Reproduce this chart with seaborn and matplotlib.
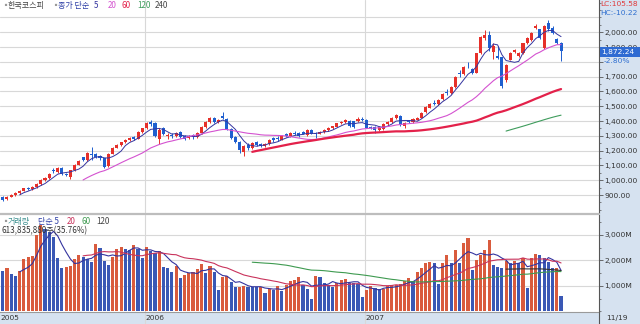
import numpy as np
import pandas as pd
import matplotlib
matplotlib.use("Agg")
import matplotlib.pyplot as plt
from matplotlib.patches import Rectangle
from matplotlib.lines import Line2D
from matplotlib.ticker import MultipleLocator, FuncFormatter
import seaborn as sns

# ---------------------------------------------------------------- data
first_week = "2005-05-09"

opens = [890, 872, 890, 902, 915, 930, 948, 940, 958, 972,
         1005, 1015, 1070, 1055, 1082, 1045, 1020, 1068, 1105, 1155,
         1135, 1178, 1180, 1165, 1148, 1098, 1180, 1220, 1238, 1258,
         1275, 1290, 1282, 1325, 1350, 1392, 1385, 1280, 1352, 1300,
         1308, 1300, 1325, 1298, 1285, 1305, 1290, 1320, 1360, 1395,
         1422, 1392, 1435, 1412, 1345, 1290, 1262, 1190, 1240, 1215,
         1260, 1245, 1230, 1245, 1285, 1285, 1275, 1310, 1300, 1322,
         1320, 1328, 1305, 1338, 1320, 1315, 1328, 1340, 1350, 1362,
         1385, 1396, 1402, 1398, 1400, 1414, 1408, 1362, 1360, 1340,
         1348, 1380, 1392, 1420, 1435, 1365, 1402, 1395, 1410, 1422,
         1458, 1490, 1522, 1518, 1548, 1598, 1590, 1630, 1722, 1720,
         1782, 1752, 1728, 1862, 1962, 1982, 1870, 1838, 1830, 1678,
         1815, 1865, 1838, 1862, 1928, 1945, 2030, 2020, 1895, 2060,
         2028, 1955, 1925]

highs = [895, 895, 908, 920, 935, 950, 955, 962, 980, 1010,
         1022, 1050, 1085, 1090, 1090, 1052, 1070, 1110, 1135, 1158,
         1190, 1225, 1185, 1170, 1150, 1185, 1225, 1245, 1262, 1280,
         1292, 1300, 1330, 1355, 1392, 1405, 1395, 1350, 1362, 1318,
         1320, 1325, 1332, 1305, 1305, 1312, 1325, 1365, 1400, 1425,
         1430, 1415, 1464, 1418, 1352, 1300, 1268, 1240, 1250, 1262,
         1268, 1252, 1252, 1278, 1295, 1298, 1305, 1318, 1325, 1330,
         1328, 1335, 1345, 1345, 1325, 1335, 1345, 1358, 1370, 1390,
         1402, 1412, 1408, 1402, 1428, 1430, 1412, 1368, 1365, 1368,
         1388, 1400, 1425, 1445, 1440, 1395, 1410, 1418, 1428, 1460,
         1500, 1520, 1545, 1550, 1590, 1615, 1635, 1705, 1742, 1770,
         1800, 1760, 1862, 1972, 2015, 2008, 1925, 1905, 1836, 1785,
         1868, 1890, 1868, 1930, 1965, 2002, 2058, 2025, 2048, 2085,
         2045, 1962, 1935]

lows = [862, 868, 885, 896, 910, 925, 932, 935, 950, 968,
        995, 1010, 1050, 1050, 1038, 1030, 1012, 1065, 1100, 1130,
        1130, 1140, 1150, 1140, 1080, 1090, 1175, 1215, 1230, 1250,
        1268, 1275, 1278, 1320, 1345, 1370, 1290, 1248, 1305, 1282,
        1285, 1295, 1285, 1270, 1280, 1280, 1285, 1315, 1355, 1390,
        1385, 1388, 1415, 1340, 1280, 1255, 1185, 1165, 1205, 1208,
        1235, 1225, 1222, 1240, 1262, 1268, 1270, 1295, 1295, 1305,
        1295, 1310, 1300, 1310, 1284, 1310, 1322, 1335, 1345, 1358,
        1378, 1390, 1360, 1352, 1395, 1400, 1350, 1345, 1320, 1335,
        1342, 1375, 1388, 1415, 1368, 1355, 1388, 1390, 1405, 1418,
        1455, 1488, 1508, 1510, 1542, 1578, 1585, 1625, 1700, 1712,
        1758, 1720, 1722, 1855, 1948, 1872, 1822, 1818, 1625, 1665,
        1810, 1858, 1830, 1855, 1920, 1940, 2020, 1955, 1885, 2010,
        1985, 1920, 1808]

closes = [870, 890, 902, 915, 930, 945, 940, 958, 972, 1005,
          1015, 1045, 1060, 1080, 1042, 1035, 1068, 1105, 1128, 1138,
          1185, 1172, 1158, 1150, 1092, 1180, 1220, 1238, 1258, 1275,
          1285, 1282, 1325, 1350, 1385, 1378, 1300, 1340, 1310, 1308,
          1302, 1318, 1290, 1282, 1300, 1290, 1320, 1360, 1395, 1418,
          1392, 1408, 1420, 1345, 1285, 1262, 1205, 1235, 1215, 1255,
          1240, 1232, 1245, 1272, 1275, 1278, 1300, 1302, 1318, 1315,
          1300, 1315, 1340, 1315, 1313, 1328, 1340, 1352, 1365, 1385,
          1396, 1405, 1365, 1358, 1412, 1408, 1352, 1350, 1340, 1362,
          1382, 1396, 1420, 1440, 1375, 1390, 1395, 1412, 1422, 1455,
          1495, 1515, 1518, 1545, 1583, 1590, 1628, 1700, 1715, 1763,
          1776, 1728, 1858, 1966, 1980, 1892, 1908, 1828, 1638, 1779,
          1862, 1878, 1860, 1925, 1958, 1997, 2045, 1960, 2040, 2020,
          1995, 1926, 1872.24]

# weekly volume, millions of shares
volumes_m = [1590, 1720, 1460, 1400, 1590, 2060, 2150, 2180, 3000, 3390,
             3250, 3130, 2940, 2110, 1690, 1760, 1790, 2050, 2220, 2150,
             2050, 1950, 2650, 2480, 1990, 1820, 2150, 2440, 2540, 2450,
             2410, 2610, 2450, 2090, 2540, 2390, 2300, 2390, 1760, 1720,
             1560, 1780, 1300, 1430, 1500, 1560, 1650, 1860, 1500, 1780,
             1560, 840, 1370, 1390, 1170, 950, 960, 1000, 980, 960,
             950, 970, 740, 870, 860, 1000, 820, 1040, 1210, 1220,
             1370, 1040, 870, 480, 1390, 1370, 1100, 1040, 970, 1100,
             1240, 1260, 1130, 1100, 1090, 560, 840, 1000, 930, 870,
             900, 1000, 1030, 1040, 1080, 1210, 1300, 1210, 1560, 1690,
             1890, 1950, 1890, 1080, 1890, 2220, 1890, 2410, 1890, 2670,
             2870, 1630, 2020, 2220, 2410, 2800, 1820, 1760, 1690, 1990,
             1890, 1990, 1890, 2080, 935, 2080, 2250, 2200, 2090, 1950,
             1690, 1717, 613.8]

price_ticks = [900, 1000, 1100, 1200, 1300, 1400, 1500, 1600, 1700, 1800, 1900, 2000]
hidden_price_labels = [1800]          # sits under the change-rate tag
volume_ticks = [1000, 2000, 3000]
price_ma_windows = [5, 20, 60, 120, 240]
volume_ma_windows = [5, 20, 60, 120]

last_volume_text = "613,835,880주(35.76%)"
change_text = "-2.80%"
lc_text = "LC:105.58"
hc_text = "HC:-10.22"

# ---------------------------------------------------------------- styling
sns.set_theme(style="white")
plt.rcParams["font.family"] = ["DejaVu Sans"]
KR = ["Noto Sans CJK KR", "DejaVu Sans"]

UP, DOWN = "#E6302A", "#1F5FCF"
VUP, VDOWN = "#D95B3D", "#3A58B5"
PRICE_MA_COLORS = {5: "#34349F", 20: "#D452D0", 60: "#E3214A", 120: "#3E9C5C", 240: "#444444"}
PRICE_MA_WIDTHS = {5: 0.7, 20: 0.8, 60: 1.6, 120: 0.8, 240: 0.8}
VOL_MA_COLORS = {5: "#34349F", 20: "#C9335C", 60: "#3E9A50", 120: "#333333"}
PANEL_BG = "#D6E2F0"
GRID = "#D8D8D8"
AXIS_FS = 5.4

df = pd.DataFrame({"open": opens, "high": highs, "low": lows,
                   "close": closes, "volume": volumes_m})
df["pos"] = np.arange(len(df))
df["week"] = pd.date_range(first_week, periods=len(df), freq="7D")
for w in price_ma_windows:
    df[f"ma{w}"] = df["close"].rolling(w).mean()
for w in volume_ma_windows:
    df[f"vma{w}"] = df["volume"].rolling(w).mean()

rising = df["close"] >= df["open"]
vol_rising = df["volume"].diff().fillna(-1) > 0

W, H = 640, 324
fig = plt.figure(figsize=(W / 100, H / 100), dpi=100, facecolor=PANEL_BG)


def fx(px):
    return px / W


def fy(py):
    return 1 - py / H


ax = fig.add_axes([0, fy(213), fx(599), 213 / H])
axv = fig.add_axes([0, fy(312), fx(599), 97 / H])
xlim = (-0.64, 140.97)

for a in (ax, axv):
    a.set_facecolor("white")
    a.set_xlim(*xlim)
    for s in ("top", "left", "bottom"):
        a.spines[s].set_visible(False)
    a.spines["right"].set_color("#555555")
    a.spines["right"].set_linewidth(0.8)
    a.yaxis.tick_right()
    a.tick_params(axis="x", bottom=False, labelbottom=False)
    a.tick_params(axis="y", which="major", direction="out", length=3, width=0.6,
                  color="#555555", pad=1, labelsize=AXIS_FS, labelcolor="#333333")
    a.tick_params(axis="y", which="minor", direction="out", length=1.5, width=0.5,
                  color="#555555")
    a.grid(axis="y", color=GRID, lw=0.8)
    a.set_axisbelow(True)

# year boundaries
year_starts = df.index[df["week"].dt.year.diff() > 0].tolist()
for p in year_starts:
    ax.axvline(p - 0.4, color=GRID, lw=0.8, zorder=0)
    axv.axvline(p - 0.4, ymin=-12 / 97, ymax=1, color=GRID, lw=0.8, zorder=0,
                clip_on=False)

# ---------------------------------------------------------------- price panel
ax.set_ylim(779, 2218)
ax.set_yticks(price_ticks)
ax.yaxis.set_minor_locator(MultipleLocator(50))
ax.yaxis.set_major_formatter(FuncFormatter(
    lambda v, _: "" if round(v) in hidden_price_labels else f"{v:,.2f}"))
ax.axhline(2100, color=GRID, lw=0.8, zorder=0)

body_w = 0.72
colors = np.where(rising, UP, DOWN)
ax.vlines(df["pos"], df["low"], df["high"], colors=colors, lw=0.7, zorder=2)
bottoms = np.minimum(df["open"], df["close"])
heights = np.maximum(np.abs(df["close"] - df["open"]), 5)
ax.bar(df["pos"], heights, bottom=bottoms, width=body_w, color=colors,
       linewidth=0, zorder=3)

for w in price_ma_windows:
    if df[f"ma{w}"].notna().any():
        sns.lineplot(data=df, x="pos", y=f"ma{w}", ax=ax, color=PRICE_MA_COLORS[w],
                     lw=PRICE_MA_WIDTHS[w], zorder=4, legend=False)
ax.set_xlabel("")
ax.set_ylabel("")
ax.set_xlim(*xlim)

# ---------------------------------------------------------------- volume panel
axv.set_ylim(-20, 3784)
axv.set_yticks(volume_ticks)
axv.yaxis.set_minor_locator(MultipleLocator(500))
axv.yaxis.set_major_formatter(FuncFormatter(lambda v, _: f"{v:,.0f}M"))
axv.bar(df["pos"], df["volume"], width=0.74,
        color=np.where(vol_rising, VUP, VDOWN), linewidth=0, zorder=2)
for w in volume_ma_windows:
    sns.lineplot(data=df, x="pos", y=f"vma{w}", ax=axv, color=VOL_MA_COLORS[w],
                 lw=0.8, zorder=4, legend=False)
axv.set_xlabel("")
axv.set_ylabel("")
axv.set_xlim(*xlim)
axv.spines["bottom"].set_visible(True)
axv.spines["bottom"].set_color("#9A9A9A")
axv.spines["bottom"].set_linewidth(0.8)

# panel separator and the axis column edge through the date strip
fig.add_artist(Line2D([0, fx(599)], [fy(214), fy(214)], color="#BDBDBD", lw=1.6))
fig.add_artist(Line2D([fx(599), fx(599)], [fy(312), 0], color="#555555", lw=0.8))

# ---------------------------------------------------------------- texts
def legend_row(py, pieces, size=5.8):
    for px, txt, col, fam in pieces:
        fig.text(fx(px), fy(py), txt, color=col, fontsize=size, family=fam,
                 va="center", ha="left")


legend_row(5.5, [
    (1, "▪", "#9A9A9A", KR),
    (8, "한국코스피", "#444444", KR),
    (51, "▪", "#9A9A9A", KR),
    (58, "종가 단순", "#2E3FA6", KR),
    (94, "5", PRICE_MA_COLORS[5], KR),
    (108, "20", PRICE_MA_COLORS[20], KR),
    (122, "60", PRICE_MA_COLORS[60], KR),
    (137, "120", PRICE_MA_COLORS[120], KR),
    (155, "240", PRICE_MA_COLORS[240], KR),
])
legend_row(221.5, [
    (1, "▪", "#9A9A9A", KR),
    (8, "거래량", "#3C9090", KR),
    (38, "단순 5", "#2E3FA6", KR),
    (67, "20", VOL_MA_COLORS[20], KR),
    (81, "60", VOL_MA_COLORS[60], KR),
    (96, "120", "#444444", KR),
])
fig.text(fx(2), fy(230.5), last_volume_text, color="#333333", fontsize=5.8,
         family=KR, va="center", ha="left")

# right-hand column annotations
fig.text(fx(600), fy(4), lc_text, color="#E03A3A", fontsize=AXIS_FS, va="center", ha="left")
fig.text(fx(600), fy(13), hc_text, color="#2F6FD0", fontsize=AXIS_FS, va="center", ha="left")
fig.add_artist(Rectangle((fx(599.5), fy(57)), fx(40.5), 10 / H,
                         transform=fig.transFigure, facecolor="#2F6BD2",
                         edgecolor="none", zorder=5))
fig.text(fx(601.5), fy(52), f"{closes[-1]:,.2f}", color="white", fontsize=AXIS_FS,
         va="center", ha="left", zorder=6)
fig.text(fx(604), fy(61), change_text, color="#2F6FD0", fontsize=AXIS_FS,
         va="center", ha="left", zorder=6)

# bottom date strip
strip_y = -6 / 97
axv.text(xlim[0] + 0.2, strip_y, str(df["week"].iloc[0].year),
         transform=axv.get_xaxis_transform(), fontsize=AXIS_FS, color="#333333",
         va="center", ha="left")
for p in year_starts:
    axv.text(p - 0.2, strip_y, str(df["week"].iloc[p].year),
             transform=axv.get_xaxis_transform(), fontsize=AXIS_FS, color="#333333",
             va="center", ha="left")
fig.text(fx(606), fy(318), df["week"].iloc[-1].strftime("%m/%d"), fontsize=AXIS_FS,
         color="#333333", va="center", ha="left")

fig.savefig("out.png", dpi=100, facecolor=PANEL_BG)
